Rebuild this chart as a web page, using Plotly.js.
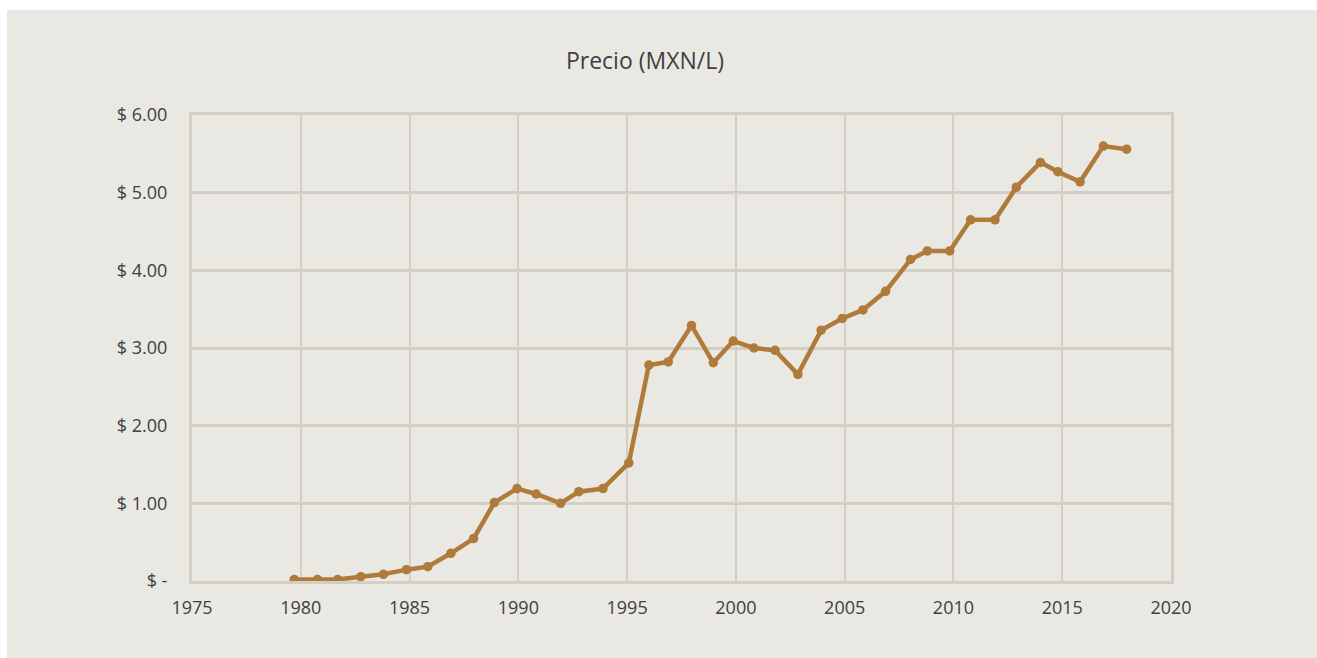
<!DOCTYPE html>
<html>
<head>
<meta charset="utf-8">
<script src="https://cdn.plot.ly/plotly-3.0.1.min.js"></script>
<style>
  html, body { margin: 0; padding: 0; background: #ffffff; width: 1317px; height: 658px; overflow: hidden; }
  #chart { position: absolute; left: 7px; top: 10px; width: 1310px; height: 648px; }
</style>
</head>
<body>
<div id="chart"></div>
<script>
// Posición en el eje (años)
const anio = [1979.70, 1980.77, 1981.70, 1982.76, 1983.80, 1984.86, 1985.84, 1986.90, 1987.94,
  1988.90, 1989.94, 1990.82, 1991.94, 1992.78, 1993.89, 1995.08, 1996.00, 1996.89, 1997.96,
  1998.96, 1999.88, 2000.83, 2001.80, 2002.85, 2003.92, 2004.89, 2005.84, 2006.88, 2008.03,
  2008.80, 2009.83, 2010.79, 2011.91, 2012.89, 2014.00, 2014.80, 2015.82, 2016.89, 2017.96];
// Precio (MXN/L)
const precio = [0.02, 0.02, 0.02, 0.055, 0.086, 0.146, 0.185, 0.357, 0.546,
  1.01, 1.19, 1.12, 1.00, 1.15, 1.19, 1.52, 2.78, 2.82, 3.29,
  2.81, 3.09, 3.00, 2.97, 2.66, 3.23, 3.38, 3.49, 3.73, 4.14,
  4.25, 4.25, 4.65, 4.65, 5.07, 5.39, 5.27, 5.14, 5.60, 5.56];
const yTicks = [0, 1, 2, 3, 4, 5, 6];
const yTickText = ['$ -', '$ 1.00', '$ 2.00', '$ 3.00', '$ 4.00', '$ 5.00', '$ 6.00'];
const xTicks = [1975, 1980, 1985, 1990, 1995, 2000, 2005, 2010, 2015, 2020];

const grid = '#D3CFC3';
const fontFam = '"Open Sans", "Noto Sans", sans-serif';

Plotly.newPlot('chart', [{
  x: anio, y: precio, type: 'scatter', mode: 'lines+markers',
  line: { color: '#B07A3A', width: 4.5 },
  marker: { color: '#B07A3A', size: 9.5 },
  hoverinfo: 'x+y'
}], {
  width: 1310, height: 648,
  paper_bgcolor: '#E9E8E3', plot_bgcolor: '#E9E8E3',
  margin: { l: 185, r: 146, t: 105, b: 77 },
  showlegend: false,
  font: { family: fontFam, color: '#404040', size: 18 },
  title: { text: 'Precio (MXN/L)', x: 0.487, xanchor: 'center', y: 0.921, yanchor: 'middle', yref: 'container',
           font: { family: fontFam, size: 23, color: '#404040' } },
  xaxis: {
    range: [1975, 2020], tickvals: xTicks, ticktext: xTicks.map(String),
    showgrid: true, gridcolor: grid, gridwidth: 2,
    showline: true, linecolor: grid, linewidth: 3, mirror: true,
    zeroline: false, ticks: '', ticklabelstandoff: 8,
    tickfont: { family: fontFam, size: 18, color: '#404040' }
  },
  yaxis: {
    range: [0, 6], tickvals: yTicks, ticktext: yTickText,
    showgrid: true, gridcolor: grid, gridwidth: 3,
    showline: true, linecolor: grid, linewidth: 3, mirror: true,
    zeroline: false, ticks: '', ticklabelstandoff: 18,
    tickfont: { family: fontFam, size: 18, color: '#404040' }
  }
}, { displayModeBar: false, staticPlot: true });
</script>
</body>
</html>
